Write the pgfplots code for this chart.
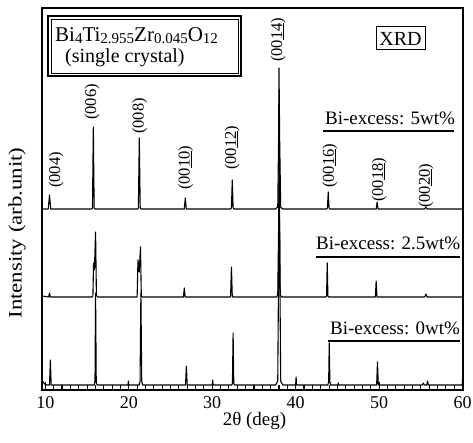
\documentclass[border=0pt]{standalone}
\usepackage{fontspec}
\setmainfont{Liberation Serif}
\usepackage{pgfplots}
\pgfplotsset{compat=1.18}
\newcommand{\sz}[1]{\fontsize{#1bp}{#1bp}\selectfont}
\newcommand{\sub}[1]{{\sz{15}\raisebox{-1.5bp}{#1}}}
\newcommand{\hkl}[1]{\sz{16.5}#1}
\begin{document}
\begin{tikzpicture}[x=1bp,y=1bp]
\useasboundingbox (-42,-53) rectangle (431,390);
\begin{axis}[
  scale only axis,width=421bp,height=382bp,
  xmin=9.6,xmax=60.05,ymin=0,ymax=382,
  axis line style={line width=1.4bp},
  xtick={10,20,30,40,50,60},
  minor x tick num=9,
  xtick pos=left,tick align=inside,
  major tick length=8bp,minor tick length=5bp,
  every tick/.style={black,line width=1.1bp},
  ytick=\empty,
  /pgf/number format/assume math mode=true,
  xticklabel style={font=\sz{18},yshift=-3bp},
]
% Bi-excess 5wt%
\addplot[black,line width=1.1bp,line join=round] coordinates {
  (9.6,181)(10.35,181)(10.5,195)(10.65,181)
  (15.55,181)(15.65,182)(15.75,263)(15.85,182)(15.95,181)
  (21.05,181)(21.15,182)(21.26,252)(21.37,182)(21.47,181)
  (26.65,181)(26.77,192)(26.89,181)
  (32.2,181)(32.3,182)(32.4,210)(32.5,182)(32.6,181)
  (37.6,181)(37.85,183)(37.95,250)(38.0,322)(38.08,250)(38.2,183)(38.45,181)
  (43.7,181)(43.8,182)(43.9,198)(44.0,182)(44.1,181)
  (49.65,181)(49.76,188)(49.87,181)
  (55.45,181)(55.6,183)(55.75,181)
  (60.05,181)};
% Bi-excess 2.5wt%
\addplot[black,line width=1.1bp,line join=round] coordinates {
  (9.6,94)(10.4,93)(10.5,97)(10.6,93)
  (15.6,93)(15.7,94)(15.78,127)(15.88,120)(16.02,158)(16.12,95)(16.25,93)
  (21.0,93)(21.1,130)(21.25,118)(21.4,143)(21.5,94)(21.6,93)
  (26.55,93)(26.65,102)(26.75,93)
  (32.15,93)(32.2,94)(32.3,123)(32.4,94)(32.45,93)
  (37.7,93)(37.85,95)(37.95,160)(38.0,200)(38.07,160)(38.15,95)(38.35,93)
  (43.6,93)(43.7,94)(43.78,127)(43.86,94)(43.95,93)
  (49.55,93)(49.64,109)(49.74,93)
  (55.45,93)(55.6,96)(55.75,93)
  (60.05,93)};
% Bi-excess 0wt%
\addplot[black,line width=1.1bp,line join=round] coordinates {
  (9.6,10)(9.75,8)(9.9,6)(10.2,5)(10.5,5)(10.6,30)(10.7,5)
  (15.85,5)(15.95,8)(16.02,97)(16.1,8)(16.2,5)
  (19.9,5)(19.95,9)(20.0,5)
  (21.25,5)(21.35,9)(21.45,97)(21.55,9)(21.65,5)
  (26.8,5)(26.9,24)(27.0,5)
  (30.0,5)(30.05,10)(30.1,5)
  (32.35,5)(32.42,7)(32.5,57)(32.58,7)(32.65,5)
  (37.6,5)(37.85,9)(37.95,120)(38.02,300)(38.1,120)(38.2,9)(38.45,5)
  (40.0,5)(40.05,13)(40.1,5)
  (43.85,5)(43.95,8)(44.02,47)(44.1,8)(44.2,5)
  (45.05,5)(45.1,7)(45.15,5)
  (49.7,5)(49.8,28)(49.9,5)
  (55.2,5)(55.3,7)(55.4,5)(55.7,5)(55.8,9)(55.9,5)
  (59.95,5)(60.0,12)(60.05,8)};
% peak labels
\begin{scope}[every node/.style={rotate=90,anchor=west,inner sep=0pt}]
\node at (axis cs:11.3,202) {\hkl{(004)}};
\node at (axis cs:15.6,270) {\hkl{(006)}};
\node at (axis cs:21.3,256) {\hkl{(008)}};
\node at (axis cs:26.8,200) {\hkl{(00\underline{10})}};
\node at (axis cs:32.4,220) {\hkl{(00\underline{12})}};
\node at (axis cs:37.9,328) {\hkl{(00\underline{14})}};
\node at (axis cs:44.1,202) {\hkl{(00\underline{16})}};
\node at (axis cs:50.0,188) {\hkl{(00\underline{18})}};
\node at (axis cs:55.6,182) {\hkl{(00\underline{20})}};
\end{scope}
\end{axis}
% annotations (1bp = 1px of the reference, origin at lower left of the axis)
\draw[line width=1.5bp] (6,314) rectangle (199,374);
\draw[line width=0.8bp] (9,317) rectangle (196,371);
\node[anchor=base west,inner sep=0pt] at (13,348)
  {\sz{21}Bi\sub{4}Ti\sub{2.955}Zr\sub{0.045}O\sub{12}};
\node[anchor=base west,inner sep=0pt] at (23,327) {\sz{20}(single crystal)};
\draw[line width=1bp] (334,340) rectangle (383,363);
\node at (358.5,351.5) {\sz{20}XRD};
\node[anchor=base west,inner sep=0pt] at (283,265) {\sz{19}Bi-excess: 5wt\%};
\draw[line width=1.2bp] (281,259) -- (412,259);
\node[anchor=base west,inner sep=0pt] at (274,140) {\sz{19}Bi-excess: 2.5wt\%};
\draw[line width=1.2bp] (274,133) -- (418,133);
\node[anchor=base west,inner sep=0pt] at (288,55) {\sz{19}Bi-excess: 0wt\%};
\draw[line width=1.2bp] (286,49) -- (418,49);
\node[rotate=90] at (-25,157) {\sz{19}\scalebox{1.2}[1]{Intensity (arb.unit)}};
\node at (212.5,-31) {\sz{19}2θ (deg)};
\end{tikzpicture}
\end{document}
